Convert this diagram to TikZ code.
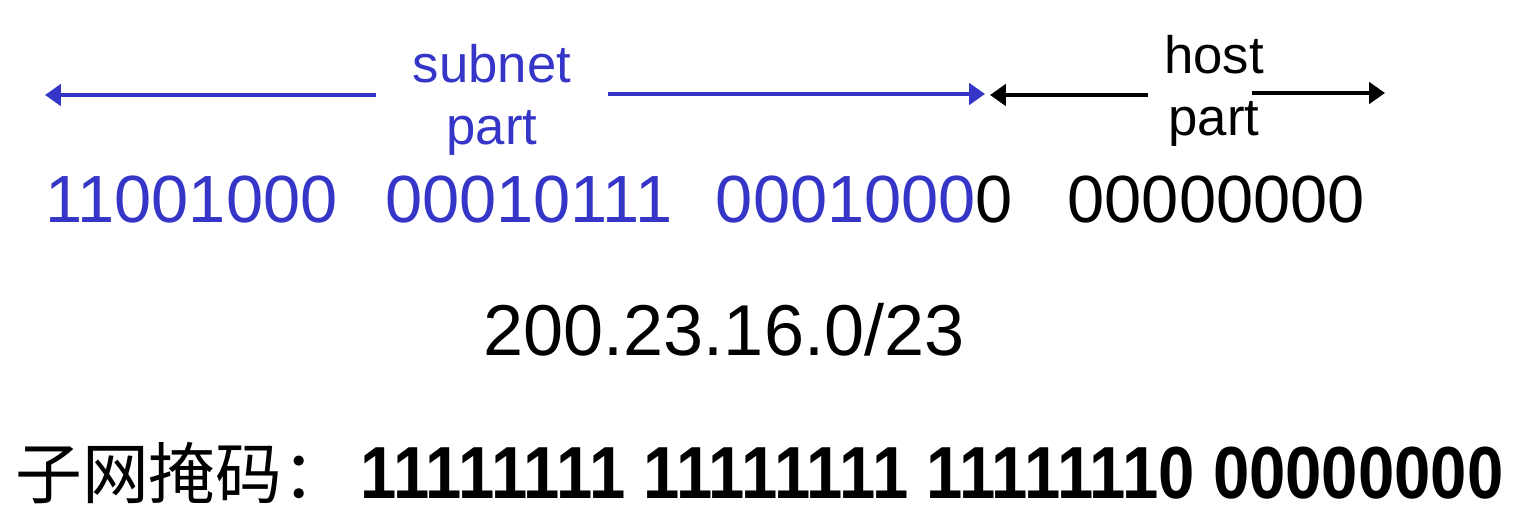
\documentclass[tikz,border=0pt]{standalone}
\usepackage{graphicx}
\usepackage{fontspec}
\setmainfont{Liberation Sans}
\newfontfamily\cjk{Noto Sans CJK SC}
\usetikzlibrary{positioning,arrows.meta}
\definecolor{subn}{HTML}{3535C8}

\begin{document}
\begin{tikzpicture}[x=0.02cm,y=-0.02cm,
  lbl/.style={align=center,font=\fontsize{30}{35}\selectfont,inner ysep=0pt},
  bits/.style={inner sep=0pt,font=\fontsize{38}{40}\selectfont},
  part/.style={line width=2.8pt,-{Triangle[length=9pt,width=12pt]}}]
\useasboundingbox (0,0) rectangle (1532,517);
% address in binary
\node[bits,anchor=base west,text=subn] (b1) at (45,222) {11001000};
\node[bits,base right=0.94cm of b1,text=subn] (b2) {00010111};
\node[bits,base right=0.86cm of b2] (b3) {\textcolor{subn}{0001000}0};
\node[bits,base right=1.08cm of b3] (b4) {00000000};
% labels and their arrows
\node[lbl,text=subn,inner xsep=21pt,anchor=north] (sub) at (492,44) {subnet\\part};
\node[lbl,inner xsep=9pt,anchor=north] (host) at (1214,35) {host\\part};
\coordinate (subL) at (45,95);
\coordinate (subR) at (985,94);
\coordinate (hostL) at (990,95);
\coordinate (hostR) at (1385,93);
\draw[part,subn] (sub.west |- subL) -- (subL);
\draw[part,subn] (sub.east |- subR) -- (subR);
\draw[part] (host.west |- hostL) -- (hostL);
\draw[part] ([xshift=-16pt]host.east |- hostR) -- (hostR);
% prefix and mask
\node[inner sep=0pt,font=\fontsize{41}{44}\selectfont,anchor=base] (pfx) at (724,355) {200.23.16.0/23};
\node[inner sep=0pt,font=\cjk\fontsize{38}{40}\selectfont,anchor=base west] (mask) at (15,498) {子网掩码：};
\node[inner sep=0pt,font=\bfseries\fontsize{42}{44}\selectfont,anchor=base west] (mbits) at (360,498) {\scalebox{0.884}[1]{11111111 11111111 11111110 00000000}};
\end{tikzpicture}
\end{document}
